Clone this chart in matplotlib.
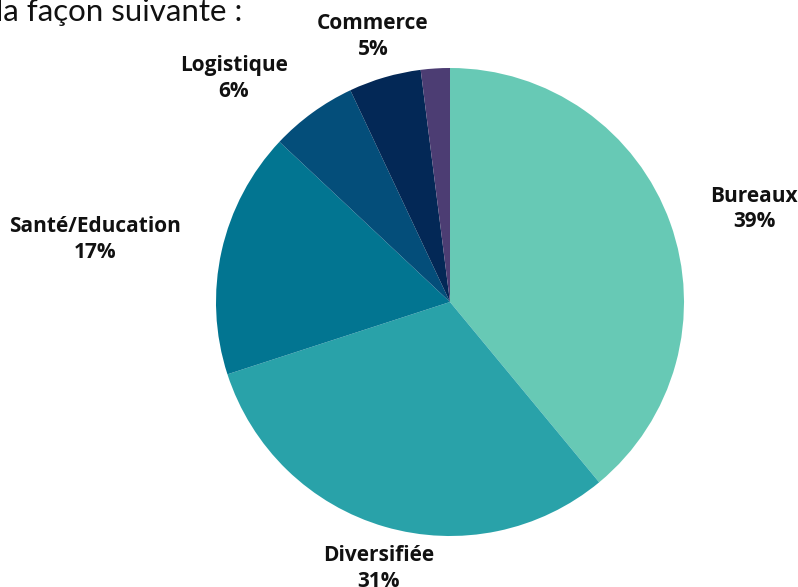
import numpy as np
import matplotlib
matplotlib.use('Agg')
import matplotlib.pyplot as plt

# === Data ===
categories = ['Bureaux', 'Diversifiée', 'Santé/Education', 'Logistique', 'Commerce', '']
values = [39, 31, 17, 6, 5, 2]
labels_pct = ['39%', '31%', '17%', '6%', '5%', '']
colors = ['#67C9B5', '#29A2A9', '#027591', '#044E7A', '#032856', '#4C3D73']
# label placement: distance (in radii) and angle shift from wedge middle (deg)
label_dist = [1.36, 1.18, 1.54, 1.33, 1.18, 1.2]
label_shift = [-2.8, 1.2, 2.6, 8.0, 0.0, 0.0]

W, H = 798, 587
fig = plt.figure(figsize=(W/100, H/100), dpi=100)
ax = fig.add_axes([0, 0, 1, 1])

cx, cy, R = 450, H-302, 234
wedges, _ = ax.pie(values, colors=colors, startangle=90, counterclock=False,
                   center=(cx, cy), radius=R, wedgeprops=dict(linewidth=0))

# pie() resets the limits, so set them afterwards (1 unit = 1 pixel)
ax.set_xlim(0, W); ax.set_ylim(0, H)
ax.set_aspect('equal')
ax.axis('off')

for w_, name, pct, d, s in zip(wedges, categories, labels_pct, label_dist, label_shift):
    if not name:
        continue
    a = np.deg2rad((w_.theta1 + w_.theta2) / 2 + s)
    ax.text(cx + d*R*np.cos(a), cy + d*R*np.sin(a), f'{name}\n{pct}',
            ha='center', va='center', fontsize=15, fontweight='bold',
            family='Open Sans', linespacing=1.3, color='#111111')

ax.text(-4, H-21, 'la façon suivante :', ha='left', va='baseline', fontsize=22.5,
        family='Lato', color='#111111')

plt.savefig('out.png', dpi=100)
